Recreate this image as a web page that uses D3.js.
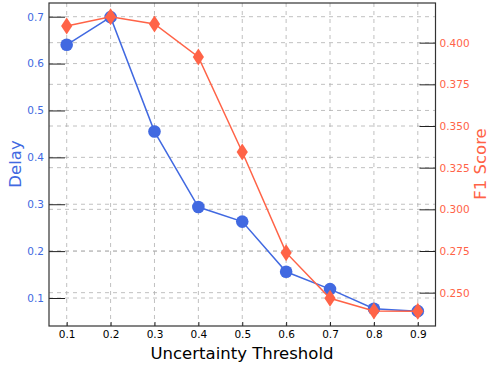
<!DOCTYPE html>
<head>
  <meta charset="utf-8">
  <script src="https://d3js.org/d3.v7.min.js"></script>
  <style>
    body { margin:0; background:#fff; }
    text { font-family: "DejaVu Sans", sans-serif; }
  </style>
</head>
<body>
<script>
// values
var thresholds = [0.1, 0.2, 0.3, 0.4, 0.5, 0.6, 0.7, 0.8, 0.9];
var delay = [0.640, 0.699, 0.455, 0.294, 0.263, 0.156, 0.119, 0.077, 0.072];
var f1 = [0.410, 0.4155, 0.4112, 0.3914, 0.3344, 0.2740, 0.2466, 0.2390, 0.2388];
var delayTicks = [0.1, 0.2, 0.3, 0.4, 0.5, 0.6, 0.7];
var f1Ticks = [0.250, 0.275, 0.300, 0.325, 0.350, 0.375, 0.400];

var blue = "#4169e1", red = "#ff6347";
var width = 489, height = 366;
var pLeft = 49, pRight = 435.5, pTop = 3, pBottom = 326;

var svg = d3.select("body").append("svg")
  .attr("width", width).attr("height", height);

var x = d3.scaleLinear().domain([0.0597, 0.9403]).range([pLeft, pRight]);
var yL = d3.scaleLinear().domain([0.0403, 0.7292]).range([pBottom, pTop]);
var yR = d3.scaleLinear().domain([0.2300, 0.4238]).range([pBottom, pTop]);

// grid
var grid = svg.append("g")
  .attr("stroke", "#b0b0b0").attr("stroke-width", 0.8)
  .attr("stroke-dasharray", "4,4");
grid.selectAll(".gx").data(thresholds).enter().append("line")
  .attr("x1", d => x(d)).attr("x2", d => x(d))
  .attr("y1", pTop).attr("y2", pBottom);
grid.selectAll(".gl").data(delayTicks).enter().append("line")
  .attr("x1", pLeft).attr("x2", pRight)
  .attr("y1", d => yL(d)).attr("y2", d => yL(d));
grid.selectAll(".gr").data(f1Ticks).enter().append("line")
  .attr("x1", pLeft).attr("x2", pRight)
  .attr("y1", d => yR(d)).attr("y2", d => yR(d));

// axes
var xAxis = svg.append("g").attr("transform", "translate(0," + pBottom + ")")
  .call(d3.axisBottom(x).tickValues(thresholds).tickSize(-4).tickPadding(5).tickFormat(d3.format(".1f")));
var lAxis = svg.append("g").attr("transform", "translate(" + pLeft + ",0)")
  .call(d3.axisLeft(yL).tickValues(delayTicks).tickSize(-16).tickPadding(5).tickFormat(d3.format(".1f")));
var rAxis = svg.append("g").attr("transform", "translate(" + pRight + ",0)")
  .call(d3.axisRight(yR).tickValues(f1Ticks).tickSize(-16).tickPadding(4).tickFormat(d3.format(".3f")));

[xAxis, lAxis, rAxis].forEach(function(a) {
  a.select(".domain").remove();
  a.selectAll("text").style("font-size", "10.5px").style("font-family", "DejaVu Sans");
  a.selectAll("line").attr("stroke", "#222");
});
lAxis.selectAll("text").attr("fill", blue);
rAxis.selectAll("text").attr("fill", red);
xAxis.selectAll("text").attr("fill", "#000");

// frame
svg.append("rect").attr("x", pLeft).attr("y", pTop)
  .attr("width", pRight - pLeft).attr("height", pBottom - pTop)
  .attr("fill", "none").attr("stroke", "#333").attr("stroke-width", 1.2);

// delay series
var lineL = d3.line().x((d, i) => x(thresholds[i])).y(d => yL(d));
svg.append("path").datum(delay).attr("d", lineL)
  .attr("fill", "none").attr("stroke", blue).attr("stroke-width", 1.5);
svg.selectAll(".pl").data(delay).enter().append("circle")
  .attr("cx", (d, i) => x(thresholds[i])).attr("cy", d => yL(d))
  .attr("r", 6.3).attr("fill", blue);

// F1 series
var lineR = d3.line().x((d, i) => x(thresholds[i])).y(d => yR(d));
svg.append("path").datum(f1).attr("d", lineR)
  .attr("fill", "none").attr("stroke", red).attr("stroke-width", 1.5);
svg.selectAll(".pr").data(f1).enter().append("path")
  .attr("transform", (d, i) => "translate(" + x(thresholds[i]) + "," + yR(d) + ")")
  .attr("d", "M0,-8.5L5.6,0L0,8.5L-5.6,0Z")
  .attr("fill", red);

// labels
svg.append("text").attr("transform", "translate(21,164) rotate(-90)")
  .attr("text-anchor", "middle").attr("fill", blue)
  .style("font-size", "16.5px").text("Delay");
svg.append("text").attr("transform", "translate(486,164) rotate(-90)")
  .attr("text-anchor", "middle").attr("fill", red)
  .style("font-size", "16.5px").text("F1 Score");
svg.append("text").attr("x", 242).attr("y", 359)
  .attr("text-anchor", "middle").attr("fill", "#000")
  .style("font-size", "16.5px").text("Uncertainty Threshold");
</script>
</body>
